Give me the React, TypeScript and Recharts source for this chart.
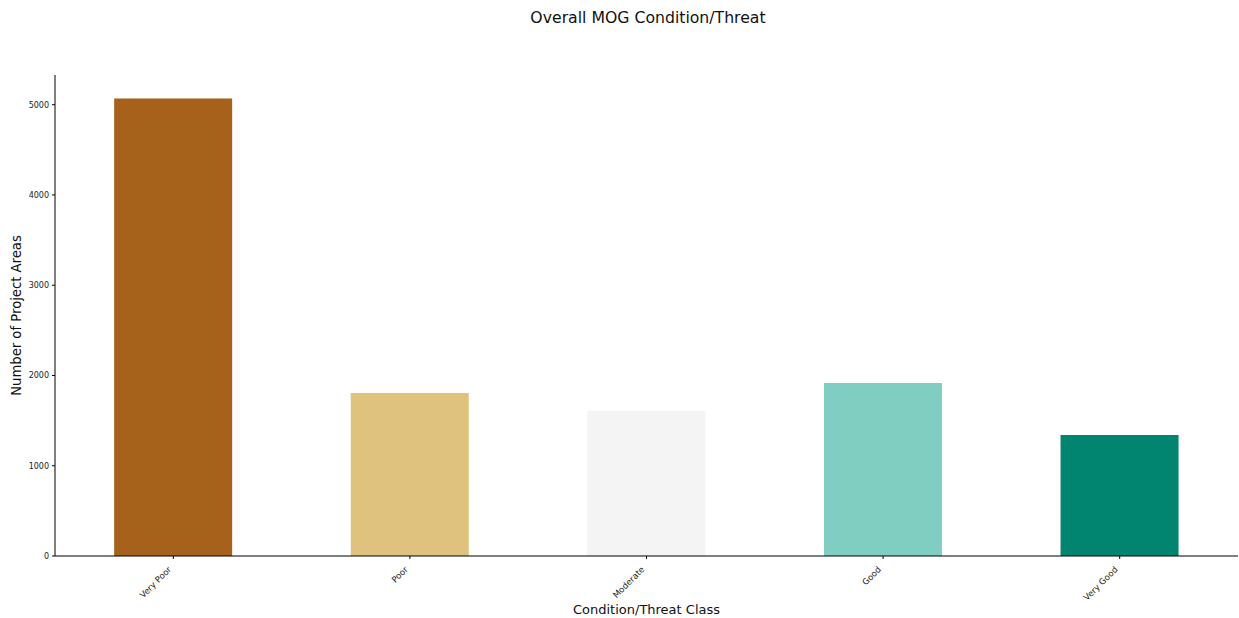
import React from "react";
import { BarChart, Bar, XAxis, YAxis, Cell, Label } from "recharts";

const categories = ["Very Poor", "Poor", "Moderate", "Good", "Very Good"];
const counts = [5068, 1807, 1608, 1918, 1341];
const colors = ["#a6611a", "#dfc27d", "#f4f4f4", "#80cdc1", "#018571"];
const yTicks = [0, 1000, 2000, 3000, 4000, 5000];

const data = categories.map((c, i) => ({ name: c, value: counts[i] }));

const FONT = "DejaVu Sans, sans-serif";

const XTick = (props: any) => {
  const { x, y, payload } = props;
  return (
    <g transform={`translate(${x - 1.5},${y + 9})`}>
      <text
        transform="rotate(-45)"
        textAnchor="end"
        fontSize={8.5}
        fontFamily={FONT}
        fill="#222"
      >
        {payload.value}
      </text>
    </g>
  );
};

export default function App() {
  return (
    <div style={{ position: "absolute", left: 0, top: 0, width: 1239, height: 618, background: "#fff" }}>
      <div
        style={{
          position: "absolute",
          left: 0,
          width: 1296,
          top: 8,
          textAlign: "center",
          fontFamily: FONT,
          fontSize: 15.7,
          color: "#111",
        }}
      >
        Overall MOG Condition/Threat
      </div>
      <BarChart
        width={1239}
        height={618}
        data={data}
        margin={{ top: 75, right: 1, bottom: 0, left: 0 }}
        barCategoryGap="25%"
      >
        <XAxis
          dataKey="name"
          height={62}
          tick={<XTick />}
          tickSize={3}
          axisLine={{ stroke: "#000", strokeWidth: 1 }}
          tickLine={{ stroke: "#000" }}
          interval={0}
        >
          <Label
            value="Condition/Threat Class"
            position="insideBottom"
            offset={4}
            style={{ fontFamily: FONT, fontSize: 13, fill: "#111" }}
          />
        </XAxis>
        <YAxis
          width={55}
          domain={[0, 5329]}
          ticks={yTicks}
          tickSize={3}
          tickMargin={3}
          axisLine={{ stroke: "#000", strokeWidth: 1 }}
          tickLine={{ stroke: "#000" }}
          tick={{ fontSize: 8, fontFamily: FONT, fill: "#222" }}
        >
          <Label
            value="Number of Project Areas"
            angle={-90}
            position="insideLeft"
            offset={16}
            style={{ fontFamily: FONT, fontSize: 13.2, fill: "#111", textAnchor: "middle" }}
          />
        </YAxis>
        <Bar dataKey="value" isAnimationActive={false}>
          {data.map((d, i) => (
            <Cell key={d.name} fill={colors[i]} />
          ))}
        </Bar>
      </BarChart>
    </div>
  );
}
